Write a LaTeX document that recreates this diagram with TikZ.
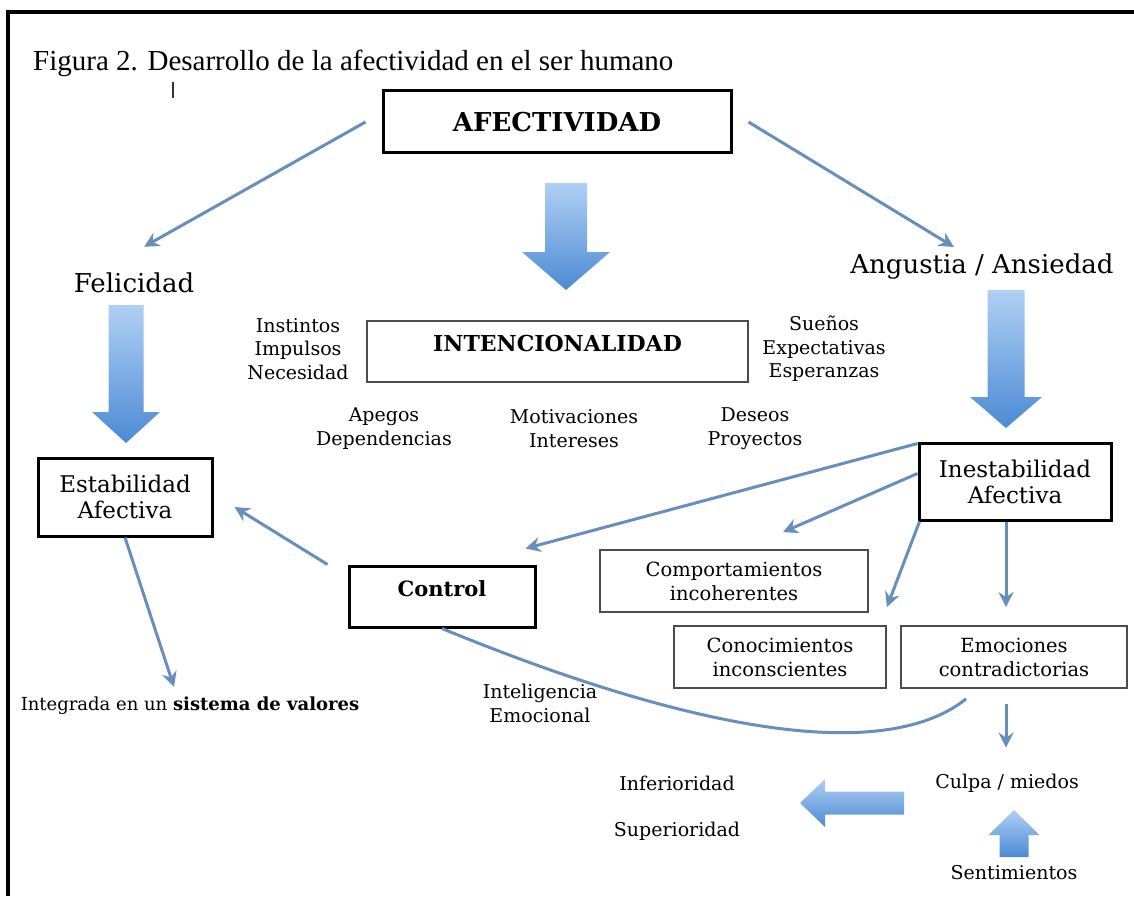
\documentclass[tikz,border=0pt]{standalone}
\usepackage{fontspec}
\setmainfont{DejaVu Serif}
\newfontfamily\titulofont{Liberation Serif}
\usetikzlibrary{arrows.meta}

\definecolor{azulflecha}{RGB}{104,142,190}
\definecolor{azulclaro}{RGB}{176,208,244}
\definecolor{azuloscuro}{RGB}{76,138,212}

\tikzset{
  cajagruesa/.style={draw=black, line width=3pt, inner sep=0pt, align=center},
  cajafina/.style={draw=black!70, line width=1.8pt, inner sep=0pt, align=center},
  flecha/.style={draw=azulflecha, line width=3pt, -{Stealth[length=15pt,width=15pt,inset=5pt]}},
  flechagorda/.style={top color=azulclaro, bottom color=azuloscuro},
  chico/.style={font=\fontsize{19}{23.5}\selectfont, align=center, inner sep=0pt},
  grande/.style={font=\fontsize{26}{30}\selectfont, inner sep=0pt},
}

\begin{document}
\begin{tikzpicture}[x=1pt, y=-1pt]
  \useasboundingbox (0,0) rectangle (1134,896);
  % marco
  \draw[line width=4pt] (8,896) -- (8,12) -- (1134,12);

  \node[anchor=base west, inner sep=0pt, font=\titulofont\fontsize{29}{34}\selectfont] (titulo) at (33,71)
    {Figura 2. Desarrollo de la afectividad en el ser humano};
  \draw[line width=1.5pt, black!80] (173,82) -- (173,98);

  % cajas
  \node[cajagruesa, minimum width=348pt, minimum height=62pt, font=\bfseries\fontsize{26}{30}\selectfont] (afect) at (557,122) {AFECTIVIDAD};
  \node[grande] (felic) at (134,283) {Felicidad};
  \node[grande] (angus) at (982,267) {Angustia / Ansiedad};

  \node[cajafina, minimum width=381pt, minimum height=61pt, text height=16pt, text depth=16pt,
    font=\bfseries\fontsize{22}{26}\selectfont] (intenc) at (557.5,351.5) {INTENCIONALIDAD};
  \node[chico] (instin) at (298,349) {Instintos\\Impulsos\\Necesidad};
  \node[chico] (suenos) at (824,349) {Sueños\\Expectativas\\Esperanzas};
  \node[chico] (apegos) at (384,428.5) {Apegos\\Dependencias};
  \node[chico] (motiv) at (574,428.5) {Motivaciones\\Intereses};
  \node[chico] (deseos) at (755,428.5) {Deseos\\Proyectos};

  \node[cajagruesa, minimum width=174pt, minimum height=78pt, font=\fontsize{23}{26}\selectfont] (estab) at (125,497) {Estabilidad\\Afectiva};
  \node[cajagruesa, minimum width=192pt, minimum height=77pt, font=\fontsize{23}{26}\selectfont] (inest) at (1015,481.5) {Inestabilidad\\Afectiva};
  \node[cajagruesa, minimum width=186pt, minimum height=61pt, text height=15pt, text depth=15pt,
    font=\bfseries\fontsize{21}{25}\selectfont] (control) at (442,596.5) {Control};

  \node[cajafina, minimum width=268pt, minimum height=62pt, font=\fontsize{19.5}{24}\selectfont] (comport) at (734,581) {Comportamientos\\incoherentes};
  \node[cajafina, minimum width=212pt, minimum height=62pt, font=\fontsize{19.5}{24}\selectfont] (conoc) at (780,657) {Conocimientos\\inconscientes};
  \node[cajafina, minimum width=226pt, minimum height=62pt, font=\fontsize{19.5}{24}\selectfont] (emoc) at (1014,657) {Emociones\\contradictorias};

  \node[chico, font=\fontsize{18}{22}\selectfont] (integ) at (190,706) {Integrada en un \textbf{sistema de valores}};
  \node[chico] (intel) at (540,703.5) {Inteligencia\\Emocional};
  \node[chico] (culpa) at (1007,783) {Culpa / miedos};
  \node[chico] (inferior) at (677,783) {Inferioridad};
  \node[chico] (superior) at (677,831) {Superioridad};
  \node[chico] (sentim) at (1014,873) {Sentimientos};

  % flechas gordas
  \shade[flechagorda] (545,183) -- (587,183) -- (587,252) -- (610,252) -- (566,290) -- (522,252) -- (545,252) -- cycle;
  \shade[flechagorda] (108.5,305) -- (143.5,305) -- (143.5,412) -- (160,412) -- (126,443) -- (92,412) -- (108.5,412) -- cycle;
  \shade[flechagorda] (987.5,290) -- (1024.5,290) -- (1024.5,397) -- (1042,397) -- (1006,428) -- (970,397) -- (987.5,397) -- cycle;
  \shade[flechagorda] (904,791.5) -- (904,814.5) -- (825,814.5) -- (825,827) -- (800,803) -- (825,779) -- (825,791.5) -- cycle;
  \shade[flechagorda] (999.5,857) -- (1028.5,857) -- (1028.5,835) -- (1039.5,835) -- (1014,810) -- (988.5,835) -- (999.5,835) -- cycle;

  % flechas finas
  \draw[flecha] ([xshift=-16pt]afect.west) -- ([xshift=10pt,yshift=26pt]felic.north);
  \draw[flecha] ([xshift=16pt]afect.east) -- ([xshift=-28pt,yshift=7pt]angus.north);
  \draw[flecha] ([xshift=-20pt]control.north west) -- ([xshift=21pt,yshift=-10pt]estab.east);
  \draw[flecha] (estab.south) -- ([xshift=-16pt,yshift=10pt]integ.north);
  \draw[flecha] ([yshift=-2pt]inest.north west) -- ([xshift=-11pt,yshift=16pt]control.north east);
  \draw[flecha] ([yshift=8pt]inest.west) -- ([xshift=49pt,yshift=17pt]comport.north);
  \draw[flecha] ([xshift=2pt]inest.south west) -- ([yshift=18pt]conoc.north east);
  \draw[flecha] ([xshift=-9pt]inest.south) -- ([xshift=-8pt,yshift=18pt]emoc.north);
  \draw[flecha] ([xshift=-8pt,yshift=-15pt]emoc.south) -- ([xshift=-1pt,yshift=26pt]culpa.north);
  \draw[draw=azulflecha, line width=3pt] (control.south) .. controls (640,710) and (870,775) .. ([xshift=66pt,yshift=-10pt]emoc.south west);
\end{tikzpicture}
\end{document}
